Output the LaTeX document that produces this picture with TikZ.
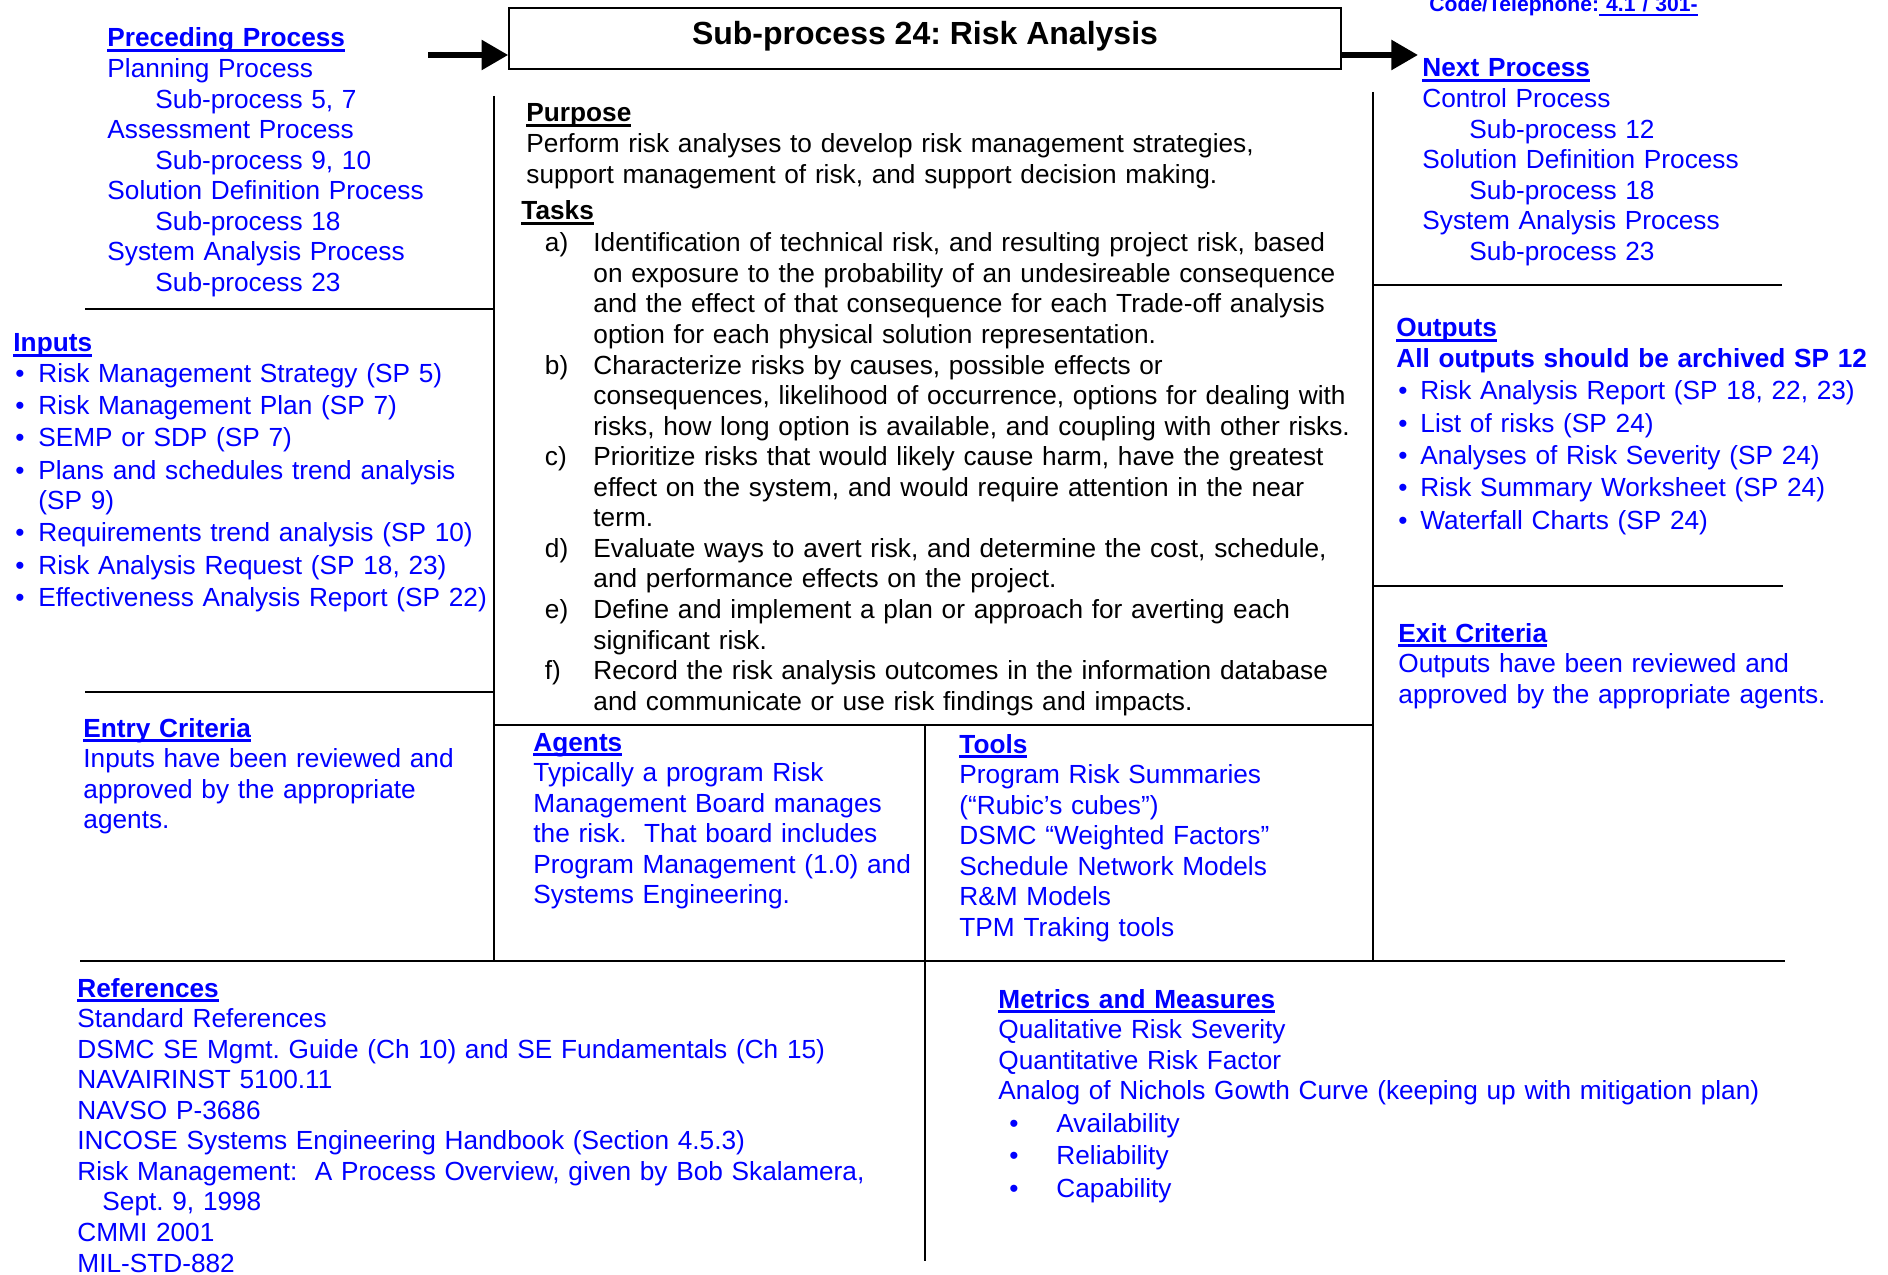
\documentclass[tikz,border=0pt]{standalone}
\usepackage{fontspec}
\setmainfont{Liberation Sans}
\usepackage{tikz}
\usetikzlibrary{arrows.meta,positioning}
\usepackage{xcolor}

% unidad: un pixel de la figura
\newdimen\pxu
\pxu=0.45pt
\newcommand\subr[1]{\setbox0\hbox{#1}\rlap{\rule[-2.1pt]{\wd0}{1.1pt}}\box0}
\newcommand\tit[1]{\subr{\bfseries #1}}
\newcommand\vin{\hspace*{2\pxu}\makebox[23\pxu][l]{\textbullet}}
\newcommand\vout{\hspace*{2\pxu}\makebox[22\pxu][l]{\textbullet}}
\newcommand\vmet{\hspace*{11\pxu}\makebox[47\pxu][l]{\textbullet}}
\newcommand\tarea[1]{\hspace*{23.5\pxu}\makebox[48.5\pxu][l]{#1}}
\newcommand\sigue{\hspace*{72\pxu}}

\begin{document}
\frenchspacing
\begin{tikzpicture}[x=0.45pt,y=-0.45pt,
  texto/.style={anchor=base west,inner sep=0pt,align=left,text width=480pt,
    font=\fontsize{11.8pt}{13.75pt}\selectfont},
  azul/.style={texto,text=blue},
  linea/.style={line width=0.75pt},
  flecha/.style={line width=2.7pt,-{Triangle[length=12pt,width=13pt]}}]
  \useasboundingbox (0,0) rectangle (1888,1275);

  % Titulo y codigo
  \node[draw,line width=0.7pt,minimum width=374.4pt,minimum height=27.45pt,
    inner sep=0pt,text height=10pt,text depth=4.2pt,
    font=\fontsize{14.4pt}{16pt}\selectfont\bfseries] (titulo) at (925,38.5)
    {Sub-process 24: Risk Analysis};
  \node[azul,font=\fontsize{9.5pt}{11pt}\selectfont\bfseries] (codigo) at (1429,11.5)
    {Code/Telephone:\subr{ 4.1 / 301-}};

  % Flechas de entrada y salida
  \coordinate (pent) at (428,55);
  \coordinate (psal) at (1418,55);
  \draw[flecha] (pent) -- (pent -| titulo.west);
  \draw[flecha] (psal -| titulo.east) -- (psal);

  % Lineas de la tabla
  \draw[linea] (494,96) -- (494,961);
  \draw[linea] (1373,92) -- (1373,961);
  \draw[linea] (85,309) -- (494,309);
  \draw[linea] (85,692) -- (494,692);
  \draw[linea] (494,725) -- (1373,725);
  \draw[linea] (925,725) -- (925,1261);
  \draw[linea] (80,961) -- (1785,961);
  \draw[linea] (1373,285) -- (1782,285);
  \draw[linea] (1373,586) -- (1783,586);

  % Columna izquierda
  \node[azul] (prec) at (107,47) {\tit{Preceding Process}\\
    Planning Process\\
    \hspace*{48\pxu}Sub-process 5, 7\\
    Assessment Process\\
    \hspace*{48\pxu}Sub-process 9, 10\\
    Solution Definition Process\\
    \hspace*{48\pxu}Sub-process 18\\
    System Analysis Process\\
    \hspace*{48\pxu}Sub-process 23};
  \node[azul] (entradas) at (13,352) {\tit{Inputs}\\
    \vin Risk Management Strategy (SP 5)\\[0.75pt]
    \vin Risk Management Plan (SP 7)\\[0.75pt]
    \vin SEMP or SDP (SP 7)\\[0.75pt]
    \vin Plans and schedules trend analysis\\
    \hspace*{25\pxu}(SP 9)\\[0.75pt]
    \vin Requirements trend analysis (SP 10)\\[0.75pt]
    \vin Risk Analysis Request (SP 18, 23)\\[0.75pt]
    \vin Effectiveness Analysis Report (SP 22)};
  \node[azul] (entrada) at (83,737) {\tit{Entry Criteria}\\
    Inputs have been reviewed and\\
    approved by the appropriate\\
    agents.};

  % Columna central
  \node[texto] (proposito) at (526,122) {\tit{Purpose}\\
    Perform risk analyses to develop risk management strategies,\\
    support management of risk, and support decision making.};
  \node[texto] (tareas) at (521,220) {\tit{Tasks}\\[0.6pt]
    \tarea{a)}Identification of technical risk, and resulting project risk, based\\
    \sigue on exposure to the probability of an undesireable consequence\\
    \sigue and the effect of that consequence for each Trade-off analysis\\
    \sigue option for each physical solution representation.\\
    \tarea{b)}Characterize risks by causes, possible effects or\\
    \sigue consequences, likelihood of occurrence, options for dealing with\\
    \sigue risks, how long option is available, and coupling with other risks.\\
    \tarea{c)}Prioritize risks that would likely cause harm, have the greatest\\
    \sigue effect on the system, and would require attention in the near\\
    \sigue term.\\
    \tarea{d)}Evaluate ways to avert risk, and determine the cost, schedule,\\
    \sigue and performance effects on the project.\\
    \tarea{e)}Define and implement a plan or approach for averting each\\
    \sigue significant risk.\\
    \tarea{f)}Record the risk analysis outcomes in the information database\\
    \sigue and communicate or use risk findings and impacts.};
  \node[azul] (agentes) at (533,751) {\tit{Agents}\\
    Typically a program Risk\\
    Management Board manages\\
    the risk.\ \ That board includes\\
    Program Management (1.0) and\\
    Systems Engineering.};
  \node[azul] (herram) at (959,753) {\tit{Tools}\\
    Program Risk Summaries\\
    (“Rubic’s cubes”)\\
    DSMC “Weighted Factors”\\
    Schedule Network Models\\
    R\&M Models\\
    TPM Traking tools};

  % Columna derecha
  \node[azul] (sig) at (1422,77) {\tit{Next Process}\\
    Control Process\\
    \hspace*{47\pxu}Sub-process 12\\
    Solution Definition Process\\
    \hspace*{47\pxu}Sub-process 18\\
    System Analysis Process\\
    \hspace*{47\pxu}Sub-process 23};
  \node[azul] (salidas) at (1396,337) {\tit{Outputs}\\
    \textbf{All outputs should be archived SP 12}\\[0.8pt]
    \vout Risk Analysis Report (SP 18, 22, 23)\\[0.8pt]
    \vout List of risks (SP 24)\\[0.8pt]
    \vout Analyses of Risk Severity (SP 24)\\[0.8pt]
    \vout Risk Summary Worksheet (SP 24)\\[0.8pt]
    \vout Waterfall Charts (SP 24)};
  \node[azul] (salida) at (1398,642) {\tit{Exit Criteria}\\
    Outputs have been reviewed and\\
    approved by the appropriate agents.};

  % Parte inferior
  \node[azul] (refs) at (77,997) {\tit{References}\\
    Standard References\\
    DSMC SE Mgmt. Guide (Ch 10) and SE Fundamentals (Ch 15)\\
    NAVAIRINST 5100.11\\
    NAVSO P-3686\\
    INCOSE Systems Engineering Handbook (Section 4.5.3)\\
    Risk Management:\ \ A Process Overview, given by Bob Skalamera,\\
    \hspace*{25\pxu}Sept. 9, 1998\\
    CMMI 2001\\
    MIL-STD-882};
  \node[azul] (metricas) at (998,1008) {\tit{Metrics and Measures}\\
    Qualitative Risk Severity\\
    Quantitative Risk Factor\\
    Analog of Nichols Gowth Curve (keeping up with mitigation plan)\\[0.85pt]
    \vmet Availability\\[0.85pt]
    \vmet Reliability\\[0.85pt]
    \vmet Capability};
\end{tikzpicture}
\end{document}
